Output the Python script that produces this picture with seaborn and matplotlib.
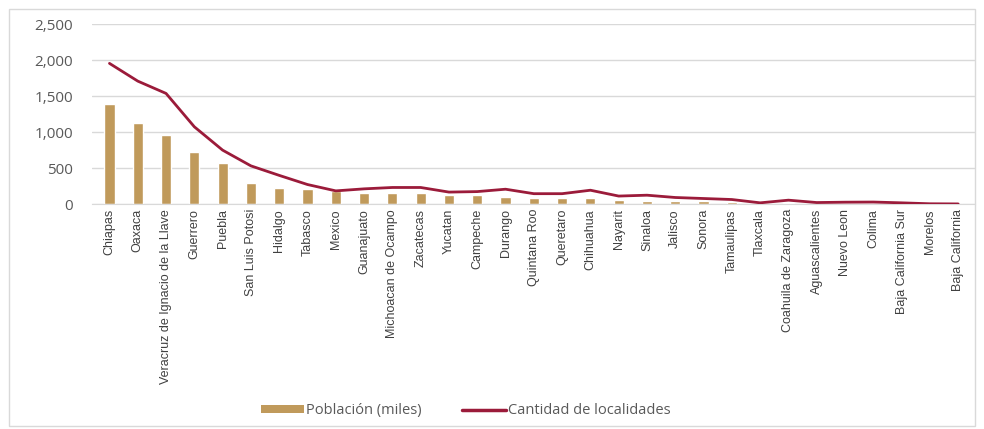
import matplotlib
matplotlib.use("Agg")
import matplotlib.pyplot as plt
import numpy as np
import pandas as pd
import seaborn as sns
from matplotlib.patches import Patch, Rectangle
from matplotlib.lines import Line2D

# states, sorted by number of localities
estados = [
    "Chiapas", "Oaxaca", "Veracruz de Ignacio de la Llave", "Guerrero", "Puebla",
    "San Luis Potosi", "Hidalgo", "Tabasco", "Mexico", "Guanajuato",
    "Michoacan de Ocampo", "Zacatecas", "Yucatan", "Campeche", "Durango",
    "Quintana Roo", "Queretaro", "Chihuahua", "Nayarit", "Sinaloa", "Jalisco",
    "Sonora", "Tamaulipas", "Tlaxcala", "Coahuila de Zaragoza", "Aguascalientes",
    "Nuevo Leon", "Colima", "Baja California Sur", "Morelos", "Baja California",
]
poblacion = [1385, 1130, 954, 718, 574, 296, 231, 213, 185, 162, 160, 160, 134,
             125, 95, 93, 90, 86, 60, 46, 46, 41, 32, 8, 10, 6, 5, 4, 4, 3, 3]
localidades = [1954, 1708, 1537, 1074, 750, 532, 400, 273, 185, 213, 232, 232,
               168, 175, 208, 146, 146, 194, 113, 125, 93, 79, 65, 19, 56, 23,
               28, 30, 19, 6, 4]
yticks = [0, 500, 1000, 1500, 2000, 2500]

bar_color = "#C09A5B"
line_color = "#9B1B3A"

df = pd.DataFrame({"estado": estados, "poblacion": poblacion,
                   "localidades": localidades})

sns.set_style("white")
plt.rcParams["font.family"] = ["Open Sans", "DejaVu Sans"]

fig = plt.figure(figsize=(9.84, 4.29), dpi=100)
ax = fig.add_axes([0.094, 0.524, 0.897, 0.42])

sns.barplot(data=df, x="estado", y="poblacion", color=bar_color, width=0.36,
            saturation=1, ax=ax, zorder=2)
sns.lineplot(x=np.arange(len(df)), y=df["localidades"], color=line_color,
             linewidth=2.0, ax=ax, zorder=3, solid_joinstyle="round",
             solid_capstyle="round")

ax.set_ylim(0, 2500)
ax.set_xlim(-0.6, len(df) - 0.4)
ax.set_yticks(yticks)
ax.set_yticklabels([f"{v:,}" for v in yticks], color="#595959", fontsize=11)
ax.yaxis.grid(True, color="#d9d9d9", linewidth=1)
ax.set_axisbelow(True)
ax.tick_params(axis="both", length=0)
ax.tick_params(axis="y", pad=14)
ax.set_xticks(range(len(df)))
ax.set_xticklabels(estados, rotation=90, fontsize=9, color="#404040",
                   family=["Liberation Sans", "DejaVu Sans"])
ax.set_xlabel("")
ax.set_ylabel("")
for s in ["top", "right", "left"]:
    ax.spines[s].set_visible(False)
ax.spines["bottom"].set_color("#d9d9d9")

handles = [Patch(facecolor=bar_color, edgecolor="none"),
           Line2D([0], [0], color=line_color, linewidth=2.5)]
fig.legend(handles, ["Población (miles)", "Cantidad de localidades"],
           loc="center", bbox_to_anchor=(0.473, 0.042), ncol=2, frameon=False,
           fontsize=10.5, labelcolor="#595959", handlelength=3.0,
           handletextpad=0.1, columnspacing=2.8, handleheight=0.45)

fig.add_artist(Rectangle((0.009, 0.008), 0.982, 0.972, transform=fig.transFigure,
                         fill=False, edgecolor="#d9d9d9", linewidth=1))

fig.savefig("out.png", dpi=100)
